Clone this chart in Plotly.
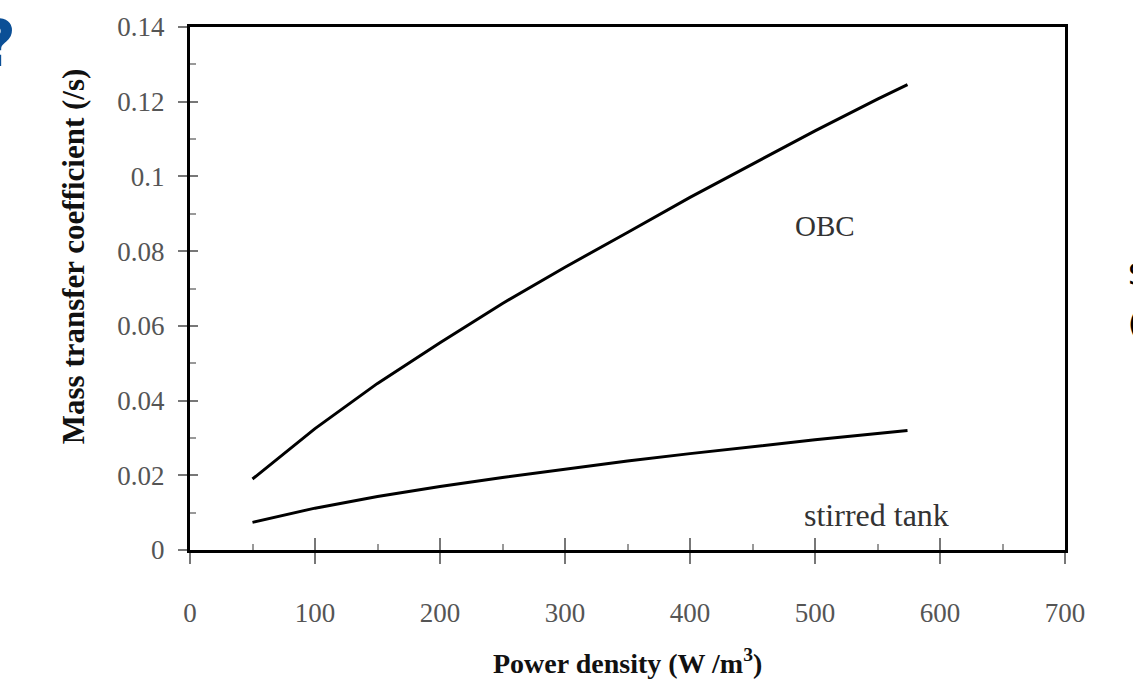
import plotly.graph_objects as go

# Power density (W/m^3) sampled along both curves
power = [50, 75, 100, 150, 200, 250, 300, 350, 400, 450, 500, 550, 574]

# Mass transfer coefficient (/s)
k_obc = [0.0190, 0.0258, 0.0325, 0.0446, 0.0555, 0.0660, 0.0757, 0.0850,
         0.0944, 0.1033, 0.1122, 0.1207, 0.1246]
k_stirred = [0.0074, 0.0094, 0.0112, 0.0143, 0.0170, 0.0194, 0.0217, 0.0238,
             0.0258, 0.0277, 0.0295, 0.0312, 0.0320]

x_ticks = [0, 100, 200, 300, 400, 500, 600, 700]
y_ticks = [0, 0.02, 0.04, 0.06, 0.08, 0.10, 0.12, 0.14]
y_tick_text = ["0", "0.02", "0.04", "0.06", "0.08", "0.1", "0.12", "0.14"]

W, H = 1133, 686
L, R, T, B = 190, 68, 23, 136
SERIF = "Liberation Serif, Times New Roman, serif"


def px_x(p):
    return (p - L) / (W - L - R)


def px_y(p):
    return (H - B - p) / (H - T - B)


fig = go.Figure()
fig.add_trace(go.Scatter(x=power, y=k_obc, mode="lines",
                         line=dict(color="black", width=3), hoverinfo="skip"))
fig.add_trace(go.Scatter(x=power, y=k_stirred, mode="lines",
                         line=dict(color="black", width=3), hoverinfo="skip"))
# empty trace so the overlay axes (inner half of crossing ticks) get drawn
fig.add_trace(go.Scatter(x=[None], y=[None], xaxis="x2", yaxis="y2",
                         hoverinfo="skip"))

tick_font = dict(family=SERIF, size=27, color="#555")

fig.update_layout(
    width=W, height=H,
    margin=dict(l=L, r=R, t=T, b=B),
    paper_bgcolor="white", plot_bgcolor="white",
    showlegend=False,
    xaxis=dict(range=[0, 700], tickvals=x_ticks, ticks="outside", ticklen=11,
               tickwidth=1.5, tickcolor="#777", showgrid=False, zeroline=False,
               showline=True, mirror=True, linecolor="black", linewidth=3,
               tickfont=tick_font, ticklabelstandoff=26,
               minor=dict(tickvals=[50, 150, 250, 350, 450, 550, 650],
                          ticks="inside", ticklen=6, tickcolor="#999",
                          tickwidth=1.5)),
    yaxis=dict(range=[0, 0.14], tickvals=y_ticks, ticktext=y_tick_text,
               ticks="outside", ticklen=9, tickwidth=1.5, tickcolor="#777",
               showgrid=False, zeroline=False, showline=True, mirror=True,
               linecolor="black", linewidth=3, tickfont=tick_font,
               ticklabelstandoff=8,
               minor=dict(tickvals=[0.01, 0.03, 0.05, 0.07, 0.09, 0.11, 0.13],
                          ticks="inside", ticklen=6, tickcolor="#999",
                          tickwidth=1.5)),
    xaxis2=dict(range=[0, 700], overlaying="x", anchor="y", tickvals=x_ticks,
                ticks="inside", ticklen=12, tickwidth=1.5, tickcolor="#777",
                showticklabels=False, showgrid=False, zeroline=False,
                showline=False),
    yaxis2=dict(range=[0, 0.14], overlaying="y", anchor="x", tickvals=y_ticks,
                ticks="inside", ticklen=8, tickwidth=1.5, tickcolor="#777",
                showticklabels=False, showgrid=False, zeroline=False,
                showline=False),
)

annotations = [
    dict(x=508, y=0.0868, xref="x", yref="y", text="OBC", showarrow=False,
         xanchor="center", yanchor="middle",
         font=dict(family=SERIF, size=29, color="#333")),
    dict(x=549, y=0.0093, xref="x", yref="y", text="stirred tank",
         showarrow=False, xanchor="center", yanchor="middle",
         font=dict(family=SERIF, size=32, color="#333")),
    dict(x=px_x(627), y=px_y(662), xref="paper", yref="paper",
         xanchor="center", yanchor="middle",
         text="<b>Power density (W /m<sup>3</sup>)</b>", showarrow=False,
         font=dict(family=SERIF, size=28, color="#111")),
    dict(x=px_x(73), y=px_y(254), xref="paper", yref="paper",
         xanchor="center", yanchor="middle",
         text="<b>Mass transfer coefficient (/s)</b>", textangle=-90,
         showarrow=False, font=dict(family=SERIF, size=31, color="#111")),
    dict(x=px_x(-3), y=px_y(40), xref="paper", yref="paper", text="<b>?</b>",
         xanchor="center", yanchor="middle", showarrow=False,
         font=dict(family="DejaVu Sans", size=64, color="#0b4f96")),
    dict(x=px_x(1126), y=px_y(272), xref="paper", yref="paper", text="S",
         xanchor="left", yanchor="middle", showarrow=False,
         font=dict(family="DejaVu Sans", size=30, color="black")),
    dict(x=px_x(1126), y=px_y(322), xref="paper", yref="paper", text="(",
         xanchor="left", yanchor="middle", showarrow=False,
         font=dict(family="DejaVu Sans", size=30, color="black")),
]
fig.update_layout(annotations=annotations)

fig.write_html("out.html")
